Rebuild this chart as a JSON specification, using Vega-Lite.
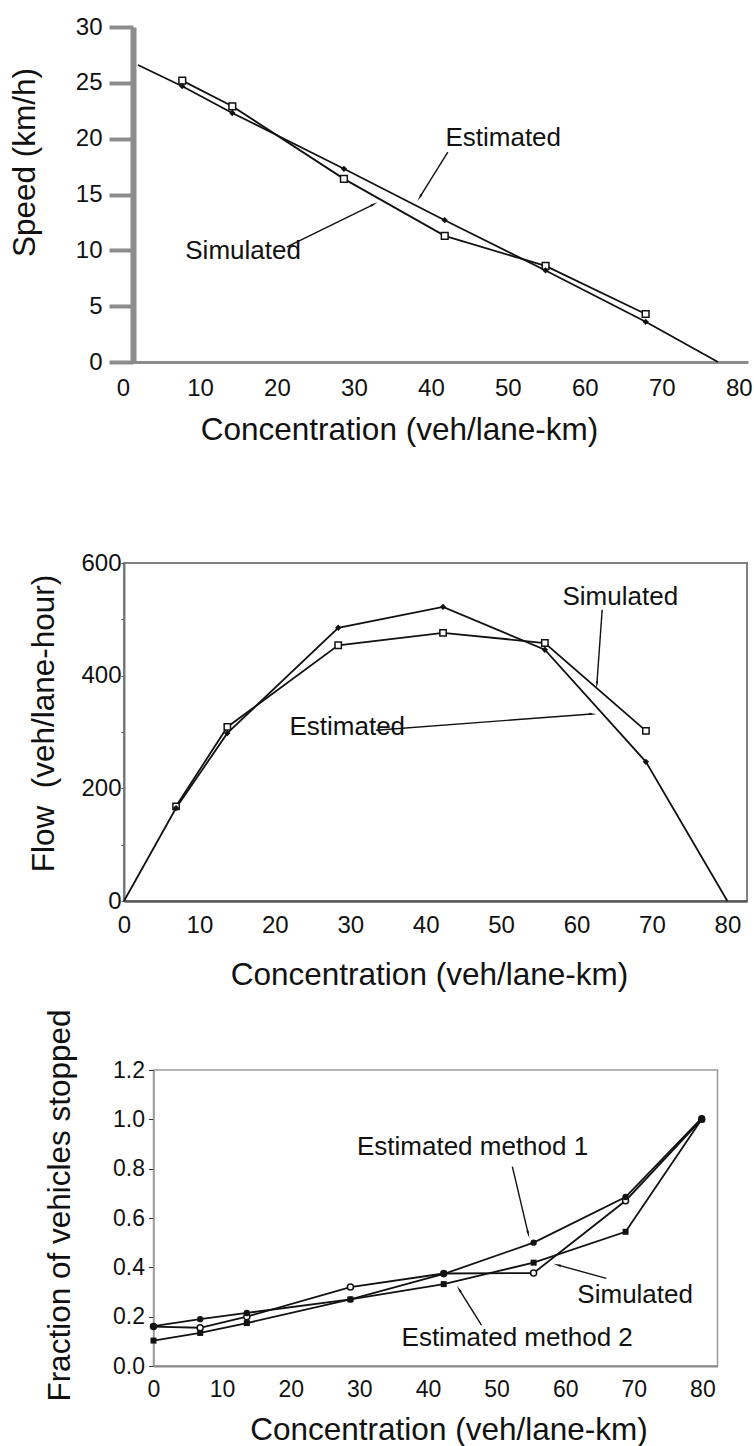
{
  "$schema": "https://vega.github.io/schema/vega-lite/v6.json",
  "background": "white",
  "padding": {"left": 8, "top": 15, "right": 4, "bottom": 4},
  "config": {
    "view": {"stroke": null},
    "font": "Liberation Sans",
    "axis": {
      "labelFont": "Liberation Sans",
      "titleFont": "Liberation Sans",
      "labelColor": "#111",
      "titleColor": "#111",
      "titleFontWeight": "normal",
      "titleFontSize": 31.5,
      "labelFontSize": 23,
      "grid": false,
      "labelFlush": false,
      "labelOverlap": false,
      "labelBound": false,
      "titleAlign": "center",
      "titleBaseline": "middle"
    },
    "text": {"font": "Liberation Sans", "fontSize": 26, "color": "#111"},
    "line": {"color": "#111", "strokeWidth": 1.8},
    "rule": {"color": "#111"}
  },
  "datasets": {
    "speed": [
      {"series": "Simulated", "conc": 7.7, "speed": 25.2},
      {"series": "Simulated", "conc": 14.2, "speed": 22.9},
      {"series": "Simulated", "conc": 28.7, "speed": 16.4},
      {"series": "Simulated", "conc": 41.8, "speed": 11.3},
      {"series": "Simulated", "conc": 54.9, "speed": 8.6},
      {"series": "Simulated", "conc": 67.9, "speed": 4.3},
      {"series": "Estimated", "conc": 1.95, "speed": 26.6},
      {"series": "Estimated", "conc": 7.7, "speed": 24.7},
      {"series": "Estimated", "conc": 14.2, "speed": 22.3},
      {"series": "Estimated", "conc": 28.7, "speed": 17.3},
      {"series": "Estimated", "conc": 41.8, "speed": 12.7},
      {"series": "Estimated", "conc": 54.9, "speed": 8.2},
      {"series": "Estimated", "conc": 67.9, "speed": 3.6},
      {"series": "Estimated", "conc": 77.3, "speed": 0}
    ],
    "flow": [
      {"series": "Simulated", "conc": 6.9, "flow": 168},
      {"series": "Simulated", "conc": 13.7, "flow": 309},
      {"series": "Simulated", "conc": 28.4, "flow": 454},
      {"series": "Simulated", "conc": 42.3, "flow": 476},
      {"series": "Simulated", "conc": 55.8, "flow": 458},
      {"series": "Simulated", "conc": 69.2, "flow": 302},
      {"series": "Estimated", "conc": 0, "flow": 0},
      {"series": "Estimated", "conc": 6.9, "flow": 165},
      {"series": "Estimated", "conc": 13.7, "flow": 298},
      {"series": "Estimated", "conc": 28.4, "flow": 485},
      {"series": "Estimated", "conc": 42.3, "flow": 522},
      {"series": "Estimated", "conc": 55.8, "flow": 446},
      {"series": "Estimated", "conc": 69.2, "flow": 247},
      {"series": "Estimated", "conc": 80, "flow": 0}
    ],
    "stopped": [
      {"series": "Simulated", "conc": 0, "frac": 0.16},
      {"series": "Simulated", "conc": 6.8, "frac": 0.155},
      {"series": "Simulated", "conc": 13.6, "frac": 0.2},
      {"series": "Simulated", "conc": 28.7, "frac": 0.32},
      {"series": "Simulated", "conc": 42.3, "frac": 0.375},
      {"series": "Simulated", "conc": 55.4, "frac": 0.377},
      {"series": "Simulated", "conc": 68.8, "frac": 0.67},
      {"series": "Simulated", "conc": 79.9, "frac": 1.0},
      {"series": "Estimated method 1", "conc": 0, "frac": 0.162},
      {"series": "Estimated method 1", "conc": 6.8, "frac": 0.19},
      {"series": "Estimated method 1", "conc": 13.6, "frac": 0.215},
      {"series": "Estimated method 1", "conc": 28.7, "frac": 0.27},
      {"series": "Estimated method 1", "conc": 42.3, "frac": 0.373},
      {"series": "Estimated method 1", "conc": 55.4, "frac": 0.5},
      {"series": "Estimated method 1", "conc": 68.8, "frac": 0.685},
      {"series": "Estimated method 1", "conc": 79.9, "frac": 1.005},
      {"series": "Estimated method 2", "conc": 0, "frac": 0.103},
      {"series": "Estimated method 2", "conc": 6.8, "frac": 0.134},
      {"series": "Estimated method 2", "conc": 13.6, "frac": 0.174},
      {"series": "Estimated method 2", "conc": 28.7, "frac": 0.27},
      {"series": "Estimated method 2", "conc": 42.3, "frac": 0.332},
      {"series": "Estimated method 2", "conc": 55.4, "frac": 0.419},
      {"series": "Estimated method 2", "conc": 68.8, "frac": 0.544},
      {"series": "Estimated method 2", "conc": 79.9, "frac": 1.0}
    ],
    "notes1": [
      {"label": "Estimated", "x": 49.4, "y": 20.1},
      {"label": "Simulated", "x": 15.6, "y": 9.9}
    ],
    "arrows1": [
      {"name": "est", "x": 42.2, "y": 18.8, "x2": 38.6, "y2": 14.8},
      {"name": "sim", "x": 21.3, "y": 10.3, "x2": 32.5, "y2": 14.1}
    ],
    "notes2": [
      {"label": "Simulated", "x": 65.8, "y": 539},
      {"label": "Estimated", "x": 29.6, "y": 308}
    ],
    "arrows2": [
      {"name": "sim", "x": 63.4, "y": 517, "x2": 62.7, "y2": 386},
      {"name": "est", "x": 33.4, "y": 303, "x2": 62.0, "y2": 332}
    ],
    "notes3": [
      {"label": "Estimated method 1", "x": 46.5, "y": 0.889},
      {"label": "Simulated", "x": 70.2, "y": 0.287},
      {"label": "Estimated method 2", "x": 53.0, "y": 0.113}
    ],
    "arrows3": [
      {"name": "m1", "x": 52.3, "y": 0.808, "x2": 54.6, "y2": 0.538},
      {"name": "sim", "x": 66.0, "y": 0.355, "x2": 59.0, "y2": 0.409},
      {"name": "m2", "x": 47.8, "y": 0.166, "x2": 44.6, "y2": 0.308}
    ]
  },
  "spacing": 0,
  "bounds": "flush",
  "center": true,
  "vconcat": [
    {
      "width": 625,
      "height": 335,
      "layer": [
        {
          "mark": {"type": "rule", "color": "#4a4a4a", "strokeWidth": 2},
          "encoding": {"y": {"datum": 30, "type": "quantitative", "scale": {"domain": [0, 30], "nice": false}}}
        },
        {
          "mark": {"type": "rule", "color": "#8a8a8a", "strokeWidth": 1.5},
          "encoding": {"x": {"datum": 81.2, "type": "quantitative", "scale": {"domain": [0, 81.2], "nice": false, "zero": false}}}
        },
        {
          "data": {"name": "speed"},
          "mark": {"type": "line"},
          "encoding": {
            "x": {
              "field": "conc", "type": "quantitative",
              "scale": {"domain": [0, 81.2], "nice": false, "zero": false},
              "axis": {
                "title": "Concentration (veh/lane-km)",
                "values": [0, 10, 20, 30, 40, 50, 60, 70, 80],
                "ticks": false,
                "domainColor": "#8c8c8c", "domainWidth": 3,
                "labelPadding": 14, "labelFontSize": 24,
                "titleX": 276, "titleY": 68
              }
            },
            "y": {
              "field": "speed", "type": "quantitative",
              "scale": {"domain": [0, 30], "nice": false},
              "axis": {
                "title": "Speed (km/h)",
                "values": [0, 5, 10, 15, 20, 25, 30],
                "offset": -10,
                "tickSize": 24, "tickWidth": 4, "tickColor": "#8c8c8c",
                "domainColor": "#8c8c8c", "domainWidth": 6,
                "labelPadding": 7, "labelFontSize": 24,
                "titleX": -108, "titleY": 135
              }
            },
            "detail": {"field": "series"}
          }
        },
        {
          "data": {"name": "speed"},
          "transform": [{"filter": "datum.series === 'Simulated'"}],
          "mark": {"type": "point", "shape": "square", "filled": true, "fill": "white", "stroke": "#111", "strokeWidth": 1.5, "size": 45, "opacity": 1},
          "encoding": {
            "x": {"field": "conc", "type": "quantitative", "scale": {"domain": [0, 81.2], "nice": false, "zero": false}},
            "y": {"field": "speed", "type": "quantitative", "scale": {"domain": [0, 30], "nice": false}}
          }
        },
        {
          "data": {"name": "speed"},
          "transform": [{"filter": "datum.series === 'Estimated' && datum.conc > 3 && datum.conc < 75"}],
          "mark": {"type": "point", "shape": "diamond", "filled": true, "color": "#111", "size": 40, "opacity": 1},
          "encoding": {
            "x": {"field": "conc", "type": "quantitative", "scale": {"domain": [0, 81.2], "nice": false, "zero": false}},
            "y": {"field": "speed", "type": "quantitative", "scale": {"domain": [0, 30], "nice": false}}
          }
        },
        {
          "data": {"name": "arrows1"},
          "mark": {"type": "rule", "strokeWidth": 1.4},
          "encoding": {
            "x": {"field": "x", "type": "quantitative", "scale": {"domain": [0, 81.2], "nice": false, "zero": false}},
            "y": {"field": "y", "type": "quantitative", "scale": {"domain": [0, 30], "nice": false}},
            "x2": {"field": "x2"},
            "y2": {"field": "y2"}
          }
        },
        {
          "data": {"name": "arrows1"},
          "transform": [{"filter": "datum.name === 'est'"}],
          "mark": {"type": "point", "shape": "wedge", "filled": true, "color": "#111", "size": 80, "opacity": 1, "angle": 212},
          "encoding": {
            "x": {"field": "x2", "type": "quantitative", "scale": {"domain": [0, 81.2], "nice": false, "zero": false}},
            "y": {"field": "y2", "type": "quantitative", "scale": {"domain": [0, 30], "nice": false}}
          }
        },
        {
          "data": {"name": "arrows1"},
          "transform": [{"filter": "datum.name === 'sim'"}],
          "mark": {"type": "point", "shape": "wedge", "filled": true, "color": "#111", "size": 80, "opacity": 1, "angle": 63},
          "encoding": {
            "x": {"field": "x2", "type": "quantitative", "scale": {"domain": [0, 81.2], "nice": false, "zero": false}},
            "y": {"field": "y2", "type": "quantitative", "scale": {"domain": [0, 30], "nice": false}}
          }
        },
        {
          "data": {"name": "notes1"},
          "mark": {"type": "text", "align": "center", "baseline": "middle"},
          "encoding": {
            "x": {"field": "x", "type": "quantitative", "scale": {"domain": [0, 81.2], "nice": false, "zero": false}},
            "y": {"field": "y", "type": "quantitative", "scale": {"domain": [0, 30], "nice": false}},
            "text": {"field": "label"}
          }
        }
      ]
    },
    {
      "width": 1,
      "height": 201,
      "data": {"values": []},
      "mark": "point"
    },
    {
      "width": 623,
      "height": 338,
      "view": {"stroke": "#808080", "strokeWidth": 2},
      "layer": [
        {
          "data": {"name": "flow"},
          "mark": {"type": "line"},
          "encoding": {
            "x": {
              "field": "conc", "type": "quantitative",
              "scale": {"domain": [0, 82.6], "nice": false, "zero": false},
              "axis": {
                "title": "Concentration (veh/lane-km)",
                "values": [0, 10, 20, 30, 40, 50, 60, 70, 80],
                "ticks": false,
                "domainColor": "#5a5a5a", "domainWidth": 2.5,
                "labelPadding": 12, "labelFontSize": 24,
                "titleX": 305, "titleY": 74
              }
            },
            "y": {
              "field": "flow", "type": "quantitative",
              "scale": {"domain": [0, 600], "nice": false},
              "axis": {
                "title": "Flow \u00a0(veh/lane-hour)",
                "values": [0, 100, 200, 300, 400, 500, 600],
                "labelExpr": "datum.value % 200 === 0 ? datum.label : ''",
                "tickSize": 3, "tickColor": "#555",
                "domainColor": "#777", "domainWidth": 2,
                "labelPadding": 0, "labelFontSize": 24,
                "titleX": -80, "titleY": 160
              }
            },
            "detail": {"field": "series"}
          }
        },
        {
          "data": {"name": "flow"},
          "transform": [{"filter": "datum.series === 'Simulated'"}],
          "mark": {"type": "point", "shape": "square", "filled": true, "fill": "white", "stroke": "#111", "strokeWidth": 1.5, "size": 40, "opacity": 1},
          "encoding": {
            "x": {"field": "conc", "type": "quantitative", "scale": {"domain": [0, 82.6], "nice": false, "zero": false}},
            "y": {"field": "flow", "type": "quantitative", "scale": {"domain": [0, 600], "nice": false}}
          }
        },
        {
          "data": {"name": "flow"},
          "transform": [{"filter": "datum.series === 'Estimated' && datum.conc > 3 && datum.conc < 75"}],
          "mark": {"type": "point", "shape": "diamond", "filled": true, "color": "#111", "size": 40, "opacity": 1},
          "encoding": {
            "x": {"field": "conc", "type": "quantitative", "scale": {"domain": [0, 82.6], "nice": false, "zero": false}},
            "y": {"field": "flow", "type": "quantitative", "scale": {"domain": [0, 600], "nice": false}}
          }
        },
        {
          "data": {"name": "arrows2"},
          "mark": {"type": "rule", "strokeWidth": 1.4},
          "encoding": {
            "x": {"field": "x", "type": "quantitative", "scale": {"domain": [0, 82.6], "nice": false, "zero": false}},
            "y": {"field": "y", "type": "quantitative", "scale": {"domain": [0, 600], "nice": false}},
            "x2": {"field": "x2"},
            "y2": {"field": "y2"}
          }
        },
        {
          "data": {"name": "arrows2"},
          "transform": [{"filter": "datum.name === 'sim'"}],
          "mark": {"type": "point", "shape": "wedge", "filled": true, "color": "#111", "size": 80, "opacity": 1, "angle": 184},
          "encoding": {
            "x": {"field": "x2", "type": "quantitative", "scale": {"domain": [0, 82.6], "nice": false, "zero": false}},
            "y": {"field": "y2", "type": "quantitative", "scale": {"domain": [0, 600], "nice": false}}
          }
        },
        {
          "data": {"name": "arrows2"},
          "transform": [{"filter": "datum.name === 'est'"}],
          "mark": {"type": "point", "shape": "wedge", "filled": true, "color": "#111", "size": 80, "opacity": 1, "angle": 94},
          "encoding": {
            "x": {"field": "x2", "type": "quantitative", "scale": {"domain": [0, 82.6], "nice": false, "zero": false}},
            "y": {"field": "y2", "type": "quantitative", "scale": {"domain": [0, 600], "nice": false}}
          }
        },
        {
          "data": {"name": "notes2"},
          "mark": {"type": "text", "align": "center", "baseline": "middle"},
          "encoding": {
            "x": {"field": "x", "type": "quantitative", "scale": {"domain": [0, 82.6], "nice": false, "zero": false}},
            "y": {"field": "y", "type": "quantitative", "scale": {"domain": [0, 600], "nice": false}},
            "text": {"field": "label"}
          }
        }
      ]
    },
    {
      "width": 1,
      "height": 169,
      "data": {"values": []},
      "mark": "point"
    },
    {
      "width": 564,
      "height": 296,
      "view": {"stroke": "#9a9a9a", "strokeWidth": 1.5},
      "layer": [
        {
          "mark": {"type": "rule", "color": "#3a3a3a", "strokeWidth": 3},
          "encoding": {"y": {"datum": 1.2, "type": "quantitative", "scale": {"domain": [0, 1.2], "nice": false}}}
        },
        {
          "data": {"name": "stopped"},
          "mark": {"type": "line"},
          "encoding": {
            "x": {
              "field": "conc", "type": "quantitative",
              "scale": {"domain": [0, 82.2], "nice": false, "zero": false},
              "axis": {
                "title": "Concentration (veh/lane-km)",
                "values": [0, 10, 20, 30, 40, 50, 60, 70, 80],
                "ticks": false,
                "domainColor": "#8a8a8a", "domainWidth": 2,
                "labelPadding": 12, "labelFontSize": 23,
                "titleX": 295, "titleY": 64
              }
            },
            "y": {
              "field": "frac", "type": "quantitative",
              "scale": {"domain": [0, 1.2], "nice": false},
              "axis": {
                "title": "Fraction of vehicles stopped",
                "values": [0, 0.1, 0.2, 0.3, 0.4, 0.5, 0.6, 0.7, 0.8, 0.9, 1.0, 1.1, 1.2],
                "labelExpr": "round(datum.value * 10) % 2 === 0 ? format(datum.value, '.1f') : ''",
                "tickSize": 5, "tickColor": "#333",
                "domainColor": "#999", "domainWidth": 1.5,
                "labelPadding": 4, "labelFontSize": 23,
                "titleX": -93, "titleY": 135
              }
            },
            "detail": {"field": "series"}
          }
        },
        {
          "data": {"name": "stopped"},
          "transform": [{"filter": "datum.series === 'Simulated'"}],
          "mark": {"type": "point", "shape": "circle", "filled": true, "fill": "white", "stroke": "#111", "strokeWidth": 1.5, "size": 36, "opacity": 1},
          "encoding": {
            "x": {"field": "conc", "type": "quantitative", "scale": {"domain": [0, 82.2], "nice": false, "zero": false}},
            "y": {"field": "frac", "type": "quantitative", "scale": {"domain": [0, 1.2], "nice": false}}
          }
        },
        {
          "data": {"name": "stopped"},
          "transform": [{"filter": "datum.series === 'Estimated method 1'"}],
          "mark": {"type": "point", "shape": "circle", "filled": true, "color": "#111", "size": 40, "opacity": 1},
          "encoding": {
            "x": {"field": "conc", "type": "quantitative", "scale": {"domain": [0, 82.2], "nice": false, "zero": false}},
            "y": {"field": "frac", "type": "quantitative", "scale": {"domain": [0, 1.2], "nice": false}}
          }
        },
        {
          "data": {"name": "stopped"},
          "transform": [{"filter": "datum.series === 'Estimated method 2'"}],
          "mark": {"type": "point", "shape": "square", "filled": true, "color": "#111", "size": 36, "opacity": 1},
          "encoding": {
            "x": {"field": "conc", "type": "quantitative", "scale": {"domain": [0, 82.2], "nice": false, "zero": false}},
            "y": {"field": "frac", "type": "quantitative", "scale": {"domain": [0, 1.2], "nice": false}}
          }
        },
        {
          "data": {"name": "arrows3"},
          "mark": {"type": "rule", "strokeWidth": 1.4},
          "encoding": {
            "x": {"field": "x", "type": "quantitative", "scale": {"domain": [0, 82.2], "nice": false, "zero": false}},
            "y": {"field": "y", "type": "quantitative", "scale": {"domain": [0, 1.2], "nice": false}},
            "x2": {"field": "x2"},
            "y2": {"field": "y2"}
          }
        },
        {
          "data": {"name": "arrows3"},
          "transform": [{"filter": "datum.name === 'm1'"}],
          "mark": {"type": "point", "shape": "wedge", "filled": true, "color": "#111", "size": 80, "opacity": 1, "angle": 166},
          "encoding": {
            "x": {"field": "x2", "type": "quantitative", "scale": {"domain": [0, 82.2], "nice": false, "zero": false}},
            "y": {"field": "y2", "type": "quantitative", "scale": {"domain": [0, 1.2], "nice": false}}
          }
        },
        {
          "data": {"name": "arrows3"},
          "transform": [{"filter": "datum.name === 'sim'"}],
          "mark": {"type": "point", "shape": "wedge", "filled": true, "color": "#111", "size": 80, "opacity": 1, "angle": 286},
          "encoding": {
            "x": {"field": "x2", "type": "quantitative", "scale": {"domain": [0, 82.2], "nice": false, "zero": false}},
            "y": {"field": "y2", "type": "quantitative", "scale": {"domain": [0, 1.2], "nice": false}}
          }
        },
        {
          "data": {"name": "arrows3"},
          "transform": [{"filter": "datum.name === 'm2'"}],
          "mark": {"type": "point", "shape": "wedge", "filled": true, "color": "#111", "size": 80, "opacity": 1, "angle": 328},
          "encoding": {
            "x": {"field": "x2", "type": "quantitative", "scale": {"domain": [0, 82.2], "nice": false, "zero": false}},
            "y": {"field": "y2", "type": "quantitative", "scale": {"domain": [0, 1.2], "nice": false}}
          }
        },
        {
          "data": {"name": "notes3"},
          "mark": {"type": "text", "align": "center", "baseline": "middle"},
          "encoding": {
            "x": {"field": "x", "type": "quantitative", "scale": {"domain": [0, 82.2], "nice": false, "zero": false}},
            "y": {"field": "y", "type": "quantitative", "scale": {"domain": [0, 1.2], "nice": false}},
            "text": {"field": "label"}
          }
        }
      ]
    }
  ]
}
